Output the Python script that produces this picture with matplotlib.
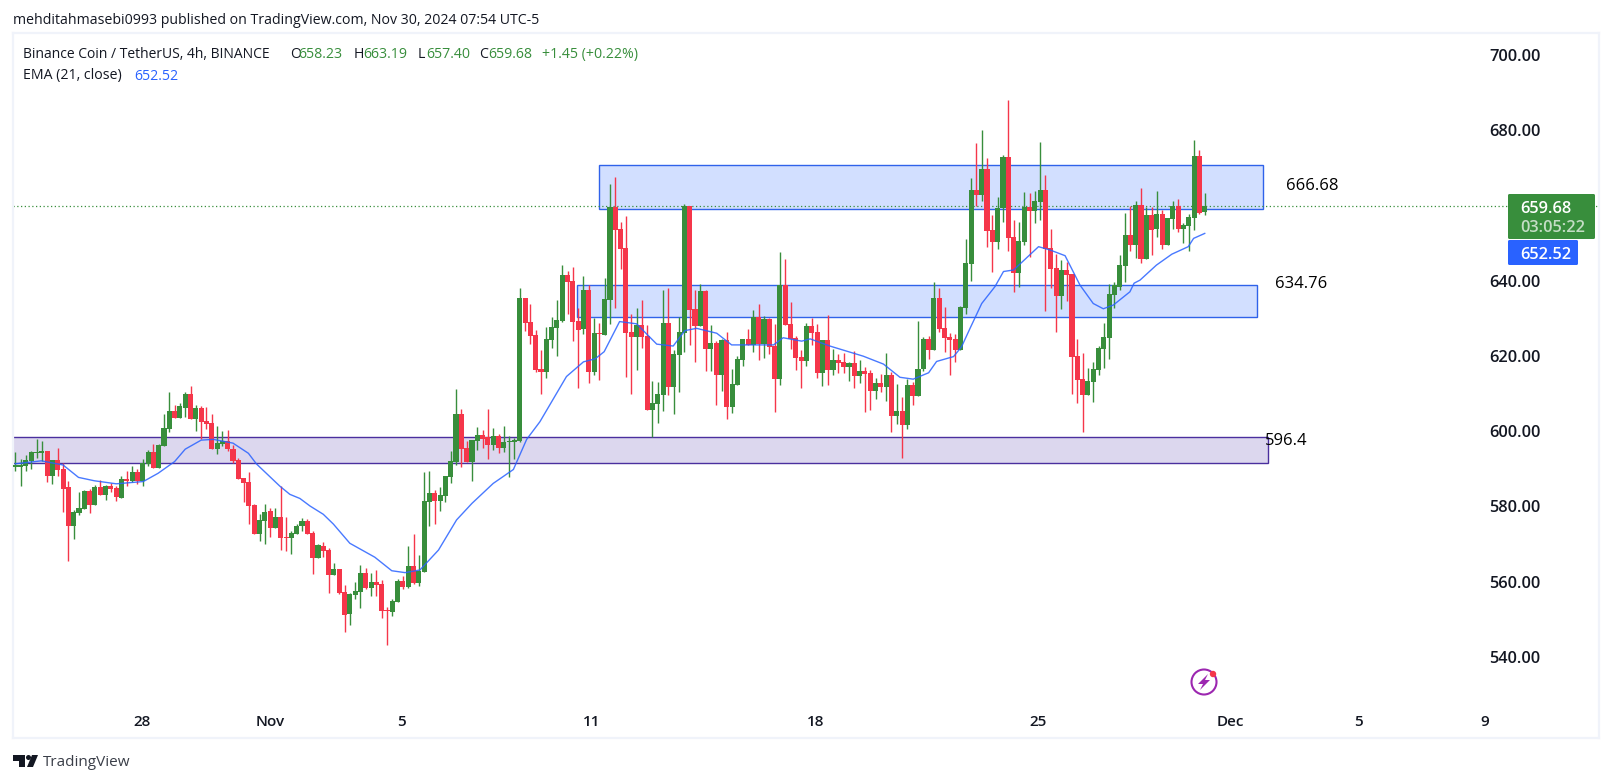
from __future__ import annotations

import matplotlib
matplotlib.use("Agg")
import matplotlib.pyplot as plt
import numpy as np
from matplotlib.patches import Circle, FancyBboxPatch, Polygon, Rectangle

WIDTH, HEIGHT = 1612, 783

_UP = "#388e3c"
_DOWN = "#f5364a"
_BLUE = "#2962ff"
_INK = "#131722"
_FRAME = "#f0f3fa"
_HEAD = 10.2

opens = [
    590.4, 590.4, 590.7, 592.1, 594.3, 594.3, 594.7, 588.2, 592.3, 589.9,
    585.2, 574.8, 578.2, 579.3, 584.1, 580.4, 585.2, 583.0, 585.4, 584.9,
    582.2, 587.3, 586.7, 589.1, 586.7, 591.3, 594.5, 590.2, 596.0, 600.6,
    605.3, 603.5, 606.1, 609.9, 603.2, 606.1, 602.7, 602.2, 595.2, 596.6,
    597.4, 595.2, 592.3, 587.5, 586.5, 580.4, 572.7, 576.1, 578.8, 574.3,
    577.2, 571.9, 571.6, 572.7, 574.8, 576.1, 572.9, 566.3, 569.5, 568.4,
    561.8, 563.4, 557.3, 551.4, 556.5, 557.3, 562.3, 558.3, 559.9, 559.4,
    552.5, 551.9, 554.6, 560.2, 558.6, 564.2, 559.6, 562.6, 581.2, 583.6,
    581.4, 582.8, 587.8, 591.8, 604.5, 595.5, 591.8, 597.4, 599.0, 598.4,
    596.3, 598.7, 595.5, 597.1, 597.1, 597.4, 635.4, 629.0, 625.5, 616.5,
    615.7, 624.2, 627.4, 629.3, 641.5, 639.9, 629.3, 627.1, 637.5, 615.7,
    626.1, 625.5, 634.8, 659.6, 653.7, 648.7, 626.3, 625.0, 628.2, 625.3,
    605.6, 607.2, 609.6, 628.7, 611.7, 620.2, 626.1, 659.8, 632.4, 627.9,
    637.2, 621.8, 623.4, 614.9, 624.2, 606.4, 612.3, 618.9, 624.5, 622.9,
    630.2, 623.1, 629.8, 622.6, 613.8, 638.7, 628.5, 624.7, 619.7, 618.6,
    627.9, 626.3, 615.4, 624.2, 616.2, 618.9, 618.4, 617.0, 618.1, 614.6,
    616.0, 615.4, 610.7, 612.8, 611.7, 614.9, 604.0, 605.3, 601.6, 612.3,
    609.3, 616.5, 624.5, 621.6, 635.4, 627.4, 625.0, 624.5, 621.6, 632.7,
    644.4, 664.1, 662.7, 669.6, 653.4, 650.2, 659.3, 672.8, 651.6, 642.0,
    650.2, 659.5, 658.5, 660.9, 664.1, 648.6, 643.3, 635.9, 642.8, 641.7,
    619.9, 613.8, 609.6, 613.0, 616.2, 621.8, 624.7, 636.2, 638.3, 643.9,
    652.1, 649.4, 660.1, 645.7, 657.4, 653.7, 657.7, 649.4, 656.3, 659.8,
    653.7, 654.5, 656.6, 673.1, 658.23,
]
closes = [
    591.0, 591.0, 592.3, 594.4, 594.5, 594.7, 588.2, 592.3, 589.7, 584.6,
    574.8, 578.5, 579.6, 584.1, 580.4, 585.2, 583.0, 585.4, 584.6, 582.5,
    587.3, 586.7, 589.1, 586.7, 591.5, 594.5, 590.2, 596.3, 600.8, 605.3,
    603.5, 606.7, 609.9, 603.2, 606.1, 602.4, 601.9, 595.2, 596.8, 597.4,
    595.2, 592.1, 587.3, 586.2, 580.1, 572.7, 576.4, 578.5, 574.3, 577.2,
    571.6, 571.6, 572.9, 574.8, 576.1, 572.7, 566.3, 569.7, 568.2, 561.8,
    563.4, 557.0, 551.1, 556.7, 557.5, 562.3, 558.3, 559.9, 559.1, 552.2,
    552.2, 554.9, 560.2, 558.6, 564.2, 559.6, 562.8, 581.4, 583.6, 581.4,
    583.0, 588.1, 592.1, 604.5, 595.2, 591.8, 597.6, 599.0, 597.9, 596.3,
    598.7, 595.5, 597.1, 597.4, 597.6, 635.4, 628.7, 625.3, 616.2, 615.7,
    624.5, 627.7, 629.5, 641.5, 639.6, 629.0, 626.9, 637.5, 615.7, 626.1,
    625.8, 635.1, 659.6, 653.4, 648.4, 626.1, 625.0, 628.2, 625.0, 605.6,
    607.5, 609.9, 628.7, 611.7, 620.5, 626.3, 659.8, 632.2, 627.9, 637.2,
    621.8, 623.4, 614.9, 624.2, 606.4, 612.5, 619.2, 624.5, 622.9, 630.3,
    623.1, 629.8, 622.4, 613.8, 638.7, 628.2, 624.5, 619.4, 618.6, 627.9,
    626.1, 615.4, 624.2, 616.2, 618.9, 618.1, 617.0, 618.1, 614.6, 616.0,
    615.2, 610.7, 612.8, 611.7, 614.9, 604.0, 605.3, 601.6, 612.3, 609.3,
    616.5, 624.5, 621.6, 635.4, 627.1, 624.7, 624.2, 621.6, 633.0, 644.7,
    664.1, 662.7, 669.6, 653.2, 650.2, 659.3, 672.8, 651.3, 642.0, 650.5,
    659.5, 658.5, 661.1, 664.1, 648.4, 643.1, 635.9, 642.8, 641.5, 619.7,
    613.6, 609.6, 613.3, 616.5, 622.1, 625.0, 636.4, 638.8, 644.1, 652.1,
    649.4, 660.1, 645.7, 657.4, 653.4, 657.7, 649.4, 656.6, 659.8, 653.7,
    654.8, 656.9, 673.1, 657.9, 659.68,
]
highs = [
    594.5, 592.6, 593.7, 594.7, 597.9, 597.4, 594.7, 592.3, 595.5, 591.4,
    586.7, 579.0, 583.8, 584.4, 584.6, 585.7, 587.0, 585.7, 586.1, 585.4,
    588.1, 589.4, 590.7, 589.9, 592.6, 595.0, 596.6, 596.7, 604.5, 610.4,
    606.9, 607.5, 610.4, 612.0, 606.9, 606.7, 606.4, 604.5, 601.4, 600.0,
    600.3, 596.3, 592.9, 587.5, 589.1, 580.6, 578.0, 580.6, 579.6, 579.6,
    585.4, 577.2, 573.5, 575.3, 576.9, 576.7, 573.5, 570.0, 570.5, 569.0,
    565.0, 563.4, 559.1, 557.0, 559.9, 564.4, 563.6, 562.3, 563.1, 560.4,
    553.3, 555.4, 560.7, 561.5, 569.5, 572.7, 567.1, 589.1, 589.4, 584.4,
    585.2, 588.1, 594.7, 611.2, 605.9, 597.4, 597.6, 601.1, 600.3, 605.9,
    600.8, 599.2, 601.4, 598.7, 598.2, 638.0, 635.4, 633.8, 626.9, 621.6,
    627.7, 630.3, 634.8, 644.1, 642.5, 643.6, 632.7, 641.2, 638.8, 630.1,
    628.7, 640.7, 665.7, 667.5, 655.6, 657.2, 631.1, 632.7, 634.8, 628.2,
    613.3, 613.0, 637.5, 638.0, 621.6, 630.3, 660.3, 659.8, 637.5, 639.1,
    637.5, 628.2, 623.9, 624.5, 626.3, 616.5, 620.0, 624.5, 627.1, 632.2,
    633.8, 630.6, 630.1, 628.5, 647.6, 645.7, 634.3, 625.3, 621.6, 628.7,
    630.1, 628.5, 624.2, 630.9, 621.8, 620.5, 620.8, 618.4, 621.3, 618.9,
    617.0, 616.2, 614.1, 615.2, 620.8, 615.7, 612.5, 609.1, 613.8, 613.1,
    629.3, 625.0, 625.3, 639.6, 638.0, 633.0, 626.1, 625.8, 633.2, 651.0,
    667.2, 676.5, 680.0, 672.6, 657.4, 662.2, 673.4, 688.0, 656.1, 655.6,
    663.5, 663.3, 663.8, 676.8, 668.0, 653.7, 647.1, 645.5, 644.9, 641.7,
    624.5, 620.8, 616.8, 618.4, 622.6, 628.7, 639.1, 639.6, 646.8, 657.9,
    659.8, 661.1, 664.6, 659.5, 659.5, 663.8, 658.7, 656.6, 661.1, 661.7,
    655.3, 657.7, 677.3, 674.7, 663.19,
]
lows = [
    589.5, 585.4, 589.5, 589.9, 592.9, 592.1, 586.5, 586.0, 588.2, 578.5,
    565.5, 571.3, 577.7, 579.3, 578.2, 580.4, 583.0, 581.7, 583.8, 581.4,
    582.2, 585.4, 586.5, 586.0, 585.4, 590.7, 590.2, 590.2, 596.0, 599.8,
    603.5, 603.5, 603.8, 603.2, 600.0, 597.9, 600.6, 595.2, 593.9, 596.0,
    594.7, 591.5, 587.3, 581.2, 575.3, 572.7, 570.8, 570.0, 571.9, 574.3,
    568.4, 568.1, 567.4, 572.7, 573.5, 572.7, 562.0, 566.3, 566.6, 557.0,
    561.8, 556.7, 546.6, 548.5, 555.4, 553.0, 558.1, 556.2, 556.2, 550.4,
    543.2, 550.9, 554.6, 558.1, 558.3, 559.4, 558.9, 562.6, 574.8, 575.3,
    578.8, 581.2, 586.2, 591.0, 590.5, 591.8, 586.7, 595.0, 595.5, 592.6,
    595.0, 594.2, 594.5, 587.8, 592.6, 597.0, 626.6, 623.1, 615.7, 609.9,
    614.1, 622.1, 620.0, 629.0, 631.1, 623.9, 611.5, 625.8, 612.8, 614.9,
    613.6, 625.5, 628.5, 632.7, 643.1, 614.4, 609.9, 616.2, 622.1, 605.6,
    598.5, 602.2, 605.3, 609.6, 604.5, 610.4, 621.0, 622.9, 618.4, 627.9,
    616.0, 616.0, 606.9, 610.7, 603.2, 604.8, 612.3, 617.3, 622.9, 621.0,
    618.9, 619.4, 620.5, 605.1, 612.3, 628.2, 621.8, 616.2, 611.5, 617.3,
    622.9, 614.1, 612.0, 612.3, 614.9, 615.4, 615.4, 613.3, 611.5, 612.8,
    605.1, 605.6, 608.5, 610.4, 608.0, 599.8, 601.9, 592.9, 600.6, 606.9,
    609.3, 616.0, 619.2, 621.6, 626.3, 621.0, 614.9, 618.4, 621.6, 631.1,
    639.9, 659.8, 661.1, 648.9, 642.3, 648.4, 655.6, 647.8, 637.0, 638.3,
    649.4, 646.3, 655.3, 656.1, 631.9, 638.0, 626.3, 632.4, 634.6, 609.9,
    607.5, 599.8, 609.6, 607.7, 614.9, 616.8, 619.2, 632.7, 637.5, 639.6,
    647.8, 646.0, 644.7, 645.7, 646.8, 651.6, 648.4, 649.4, 653.7, 652.9,
    650.0, 647.8, 653.4, 657.7, 657.40,
]

ema_idx = [
    0, 4.9, 9, 11.9, 14.9, 19, 24.1, 26.9, 30, 32, 35, 37.3, 41, 43.9, 45.4, 49.8,
    51.7, 53.6, 55.5, 58, 59.9, 63, 67.7, 70.9, 73.4, 76.2, 79.7, 83.1, 86, 90,
    93.8, 96.3, 98.8, 103.8, 107, 109.2, 110.9, 113.8, 117, 120.8, 123.9, 126.1,
    128.3, 132.1, 134.9, 137.7, 142.8, 144.6, 148.1, 149.7, 153.4, 159.7, 163.5,
    166.6, 169.1, 172, 173.5, 176.7, 178.2, 179.8, 182, 184.5, 186.1, 188, 192.7,
    194.9, 197.7, 200.5, 203, 204.9, 206.8, 209.9, 210.7, 211.8, 214.9, 217.8,
    220.9, 221.9, 224,
]
ema_values = [
    591.3, 592.1, 591.0, 587.7, 586.8, 586.0, 586.6, 588.8, 591.9, 595.2, 597.6, 597.8, 596.8, 594.1, 591.3, 585.4,
    583.2, 582.1, 580.1, 577.9, 575.3, 570.2, 566.5, 562.9, 562.4, 563.1, 568.4, 576.4, 580.8, 586.1,
    589.8, 597.8, 602.5, 614.5, 618.4, 619.2, 621.1, 629.1, 628.5, 623.1, 622.6, 626.7,
    627.3, 626.0, 622.9, 622.9, 622.9, 624.8, 623.9, 624.5, 622.6, 619.9, 617.8,
    614.3, 613.8, 615.5, 618.5, 619.8, 622.4, 627.3, 633.9, 638.4, 642.4, 642.8, 649.0,
    648.1, 646.6, 638.8, 633.9, 632.5, 633.5, 637.0, 639.3, 640.1, 644.1, 647.0,
    649.0, 651.2, 652.52,
]

# 660.00 sits under the last price tag, so it is not listed
price_ticks = [540, 560, 580, 600, 620, 640, 680, 700]
date_pos = [23.9, 48.0, 72.8, 108.6, 150.8, 192.7, 228.8, 252.9, 276.7]
date_labels = ["28", "Nov", "5", "11", "18", "25", "Dec", "5", "9"]

# zones: left idx, right idx, low, high
zones = [
    (110.0, 234.9, 659.0, 670.7, "#d2dfff", "#2f62ea"),
    (105.8, 233.9, 630.2, 638.7, "#d2dfff", "#2f62ea"),
    (-3.0, 236.0, 591.4, 598.4, "#dcd7ee", "#4a2f9e"),
]
zone_notes = [(239.3, 665.1, "666.68"), (237.2, 639.2, "634.76"), (235.3, 597.4, "596.4")]

last_price = 659.68

plt.rcParams["font.family"] = ["Open Sans", "DejaVu Sans"]

fig = plt.figure(figsize=(WIDTH / 100, HEIGHT / 100), dpi=100, facecolor="white")

# pane edges in pixels
L, R, T, B = 13, 1599, 33, 738
ax = fig.add_axes([L / WIDTH, 1 - B / HEIGHT, (R - L) / WIDTH, (B - T) / HEIGHT])
ax.set_xlim((L - 15.3) / 5.31, (R - 15.3) / 5.31)
ax.set_ylim(700 - (B - 54.7) / 3.764, 700 - (T - 54.7) / 3.764)
for s in ax.spines.values():
    s.set_color(_FRAME)
    s.set_linewidth(1.6)

for x0, x1, lo, hi, fill, edge in zones:
    ax.add_patch(Rectangle((x0, lo), x1 - x0, hi - lo, facecolor=fill, edgecolor=edge, linewidth=1.0, zorder=1))
for x, y, s in zone_notes:
    ax.text(x, y, s, fontsize=12, color="black", ha="left", va="center", zorder=6)

ax.axhline(last_price, color=_UP, linestyle=(0, (1, 2)), linewidth=0.9, zorder=2)

idx = np.arange(len(opens))
o = np.array(opens)
c = np.array(closes)
colors = [_UP if cc >= oo else _DOWN for oo, cc in zip(o, c)]
ax.vlines(idx, lows, highs, colors=colors, linewidth=1.0, zorder=3)
ax.bar(idx, np.abs(c - o), bottom=np.minimum(o, c), width=0.96, color=colors, linewidth=0, zorder=3)
ax.plot(ema_idx, ema_values, color=_BLUE, linewidth=1.0, alpha=0.85, zorder=4)

ax.set_yticks(price_ticks)
ax.set_yticklabels([f"{p:.2f}" for p in price_ticks])
ax.yaxis.tick_right()
ax.tick_params(axis="y", length=0, pad=-79, labelsize=11.8, labelcolor=_INK)
for lab in ax.get_yticklabels():
    lab.set_fontweight("semibold")
ax.set_xticks(date_pos)
ax.set_xticklabels(date_labels)
ax.tick_params(axis="x", length=0, pad=-16.5, labelsize=11, labelcolor=_INK)
for lab in ax.get_xticklabels():
    lab.set_fontweight("semibold")

# overlay in pixel coordinates for header, price tags and logos
ov = fig.add_axes([0, 0, 1, 1], zorder=10)
ov.set_xlim(0, WIDTH)
ov.set_ylim(HEIGHT, 0)
ov.axis("off")

ov.text(12.6, 21, "mehditahmasebi0993 published on TradingView.com, Nov 30, 2024 07:54 UTC-5",
        fontsize=_HEAD, color=_INK, va="center")
ov.text(23, 54.5, "Binance Coin / TetherUS, 4h, BINANCE", fontsize=_HEAD * 0.98, color=_INK, va="center")
for x, s, col in [
    (290, "O", _INK), (298, "658.23", _UP), (354, "H", _INK), (363.6, "663.19", _UP),
    (418, "L", _INK), (426, "657.40", _UP), (479, "C", _INK), (488, "659.68", _UP),
    (542, "+1.45 (+0.22%)", _UP),
]:
    ov.text(x, 54.5, s, fontsize=_HEAD, color=col, va="center")
ov.text(23, 76, "EMA (21, close)", fontsize=_HEAD, color=_INK, va="center")
ov.text(134.7, 76, "652.52", fontsize=_HEAD, color=_BLUE, va="center")

ov.add_patch(FancyBboxPatch((1508, 194), 87, 45, boxstyle="round,pad=0,rounding_size=1.5", facecolor=_UP, edgecolor="none"))
ov.add_patch(FancyBboxPatch((1508, 240), 70, 25, boxstyle="round,pad=0,rounding_size=1.5", facecolor=_BLUE, edgecolor="none"))
ov.text(1520, 209, "659.68", fontsize=11.8, color="white", weight="semibold", va="center")
ov.text(1520, 228.5, "03:05:22", fontsize=11.8, color="#c4ddc5", weight="semibold", va="center")
ov.text(1520, 255, "652.52", fontsize=11.8, color="white", weight="semibold", va="center")

# lightning badge
ov.add_patch(Circle((1204, 682), 12.5, facecolor="none", edgecolor="#9c27b0", linewidth=1.5))
ov.add_patch(Polygon([(1208, 674), (1198, 684), (1203, 684), (1200, 690), (1210, 680), (1205, 680)],
                     facecolor="#9c27b0", edgecolor="none"))
ov.add_patch(Circle((1213, 674), 3.2, facecolor="#f5364a", edgecolor="none"))

# TradingView mark
ov.add_patch(Polygon([(13, 755), (25, 755), (25, 767), (19, 767), (19, 761), (13, 761)], facecolor=_INK, edgecolor="none"))
ov.add_patch(Circle((28.5, 757.5), 2.5, facecolor=_INK, edgecolor="none"))
ov.add_patch(Polygon([(27, 767), (32, 755), (38, 755), (33, 767)], facecolor=_INK, edgecolor="none"))
ov.text(43, 762, "TradingView", fontsize=11, color="#3a3e48", va="center")

fig.savefig("out.png", dpi=100)
